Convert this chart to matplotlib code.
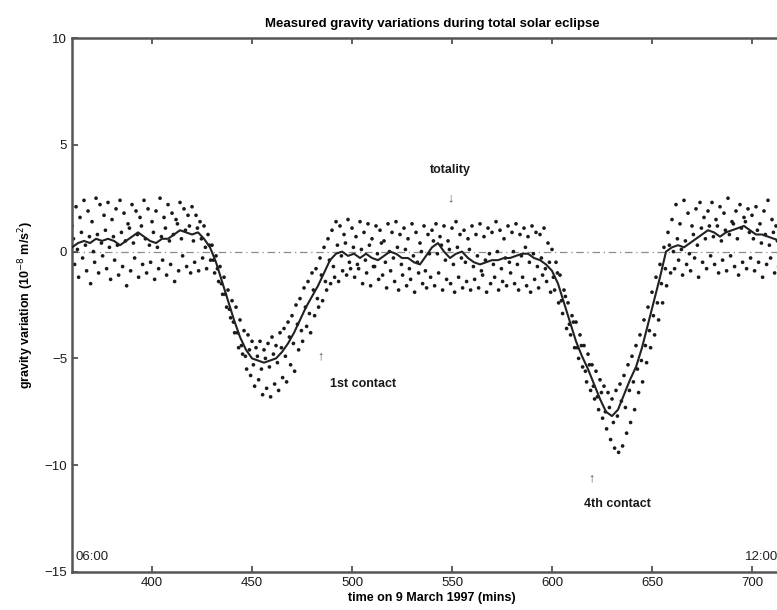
import numpy as np
import matplotlib
matplotlib.use("Agg")
from matplotlib import pyplot as plt

plt.rcParams['font.family'] = ['Liberation Sans', 'DejaVu Sans']

# smoothed gravity curve, every 3 min from 06:00 (360) to 12:00 (720)
t_line = np.arange(360, 721, 3)
g_line = [
    0.2, 0.4, 0.5, 0.4, 0.6, 0.5, 0.6, 0.5, 0.3, 0.5,
    0.7, 0.9, 0.7, 0.5, 0.4, 0.6, 0.6, 0.8, 1.0, 0.9,
    0.8, 0.9, 0.6, 0.2, -0.5, -1.4, -2.3, -3.2, -4.0, -4.6,
    -5.0, -5.1, -5.2, -5.1, -5.0, -4.7, -4.3, -3.8, -3.2, -2.6,
    -2.1, -1.6, -1.0, -0.4, -0.1, 0.0, -0.2, -0.1, -0.3, -0.1,
    -0.3, -0.4, -0.2, 0.0, -0.1, -0.3, -0.3, -0.5, -0.6, -0.2,
    0.2, 0.4, 0.0, -0.3, -0.1, 0.0, -0.3, -0.5, -0.6, -0.5,
    -0.4, -0.4, -0.3, -0.3, -0.2, -0.1, -0.1, -0.3, -0.4, -0.6,
    -0.9, -1.5, -2.4, -3.3, -4.2, -4.9, -5.5, -6.2, -6.9, -7.5,
    -7.7, -7.4, -6.7, -6.0, -5.4, -4.5, -3.4, -2.3, -1.2, 0.0,
    0.2, 0.3, 0.2, 0.4, 0.6, 0.8, 1.0, 0.9, 0.7, 0.9,
    1.0, 1.1, 1.2, 1.0, 0.8, 0.8, 0.7, 0.6, 0.5, 0.4,
    0.3,
]

# raw readings, every 2 min, three bands of points (slightly staggered in time)
t_obs = np.arange(360, 720, 2)
t_shift = [0.0, 0.7, 1.3]
g_upper = [
    1.2, 2.1, 1.6, 2.4, 1.9, 1.4, 2.5, 2.2, 1.7, 2.3,
    1.5, 2.0, 2.4, 1.8, 1.3, 2.2, 1.9, 1.6, 2.4, 2.0,
    1.4, 1.9, 2.5, 1.6, 2.2, 1.8, 1.5, 2.3, 2.0, 1.7,
    2.1, 1.7, 1.4, 1.2, 0.8, 0.3, -0.2, -0.7, -1.2, -1.8,
    -2.3, -2.6, -3.2, -3.7, -3.9, -4.2, -4.5, -4.2, -4.6, -4.3,
    -4.0, -4.4, -3.8, -3.6, -3.3, -3.0, -2.5, -2.2, -1.7, -1.4,
    -1.0, -0.8, -0.3, 0.2, 0.6, 1.0, 1.4, 1.2, 0.8, 1.5,
    1.1, 0.7, 1.4, 0.9, 1.3, 0.6, 1.2, 1.0, 0.5, 1.3,
    0.9, 1.4, 0.8, 1.1, 0.6, 1.3, 0.9, 0.4, 1.2, 0.8,
    1.0, 1.3, 0.7, 1.2, 0.5, 1.1, 1.4, 0.8, 1.0, 0.6,
    1.2, 0.8, 1.3, 0.7, 1.1, 0.9, 1.4, 1.0, 0.6, 1.2,
    0.9, 1.3, 0.8, 1.1, 0.7, 1.2, 0.9, 0.8, 1.1, 0.4,
    0.1, -0.5, -1.1, -1.8, -2.4, -3.0, -3.3, -3.9, -4.4, -4.8,
    -5.3, -5.6, -6.0, -6.3, -6.6, -6.9, -6.5, -6.2, -5.8, -5.3,
    -4.9, -4.4, -3.9, -3.2, -2.6, -1.9, -1.2, -0.6, 0.2, 0.9,
    1.5, 2.2, 1.3, 2.4, 1.8, 1.2, 2.0, 2.3, 1.6, 1.9,
    2.3, 1.5, 2.1, 1.8, 2.5, 1.4, 1.9, 2.2, 1.6, 2.0,
    1.7, 2.1, 1.3, 1.9, 2.4, 1.5, 1.2, 1.8, 2.2, 1.4,
]
g_middle = [
    0.6, 0.1, 0.9, 0.3, 0.7, 0.0, 0.8, 0.4, 1.0, 0.2,
    0.7, 0.3, 0.9, 0.5, 1.1, 0.4, 0.8, 1.2, 0.6, 0.3,
    0.9, 0.2, 0.7, 1.1, 0.5, 0.8, 1.3, 0.6, 1.0, 1.2,
    0.5, 1.1, 0.6, 0.2, 0.3, -0.4, -0.8, -1.5, -2.0, -2.7,
    -3.3, -3.8, -4.4, -4.9, -4.6, -5.3, -4.9, -5.5, -5.0, -5.4,
    -4.8, -5.2, -4.5, -4.9, -4.0, -4.3, -3.4, -3.7, -2.6, -2.9,
    -1.8, -2.2, -1.1, -1.4, -0.4, -0.7, 0.3, -0.2, 0.4, -0.5,
    0.2, -0.6, 0.1, -0.4, 0.3, -0.7, -0.1, 0.4, -0.5, 0.0,
    -0.3, 0.2, -0.6, 0.1, -0.8, -0.2, -0.5, 0.0, -0.9, -0.1,
    0.5, -0.1, 0.3, -0.4, 0.1, -0.6, 0.2, -0.3, -0.5, 0.1,
    -0.7, -0.2, -0.9, -0.4, -0.1, -0.6, 0.0, -0.8, -0.3, -0.5,
    0.0, -0.6, -0.2, 0.2, -0.5, -0.1, -0.7, -0.3, -0.8, -0.5,
    -1.2, -1.0, -2.3, -2.1, -3.4, -3.3, -4.5, -4.4, -5.6, -5.3,
    -6.3, -6.8, -6.6, -7.5, -7.3, -8.0, -7.7, -7.0, -7.3, -6.5,
    -6.1, -5.5, -5.1, -4.4, -3.7, -3.0, -2.4, -1.5, -0.8, 0.3,
    0.0, 0.6, 0.1, 0.5, -0.1, 0.8, 0.3, 1.1, 0.6, 1.2,
    0.7, 1.2, 0.5, 1.0, 0.8, 1.3, 0.6, 1.1, 1.4, 0.9,
    0.6, 1.0, 0.4, 0.8, 0.3, 0.9, 0.5, 0.2, 0.7, 0.3,
]
g_lower = [
    -0.6, -1.2, -0.3, -0.9, -1.5, -0.5, -1.0, -0.2, -0.8, -1.3,
    -0.4, -1.1, -0.7, -1.6, -0.9, -0.3, -1.2, -0.6, -1.0, -0.5,
    -1.3, -0.8, -0.4, -1.1, -0.6, -1.4, -0.9, -0.2, -0.7, -1.0,
    -0.5, -0.9, -0.3, -0.8, -0.4, -1.0, -1.4, -2.0, -2.6, -3.1,
    -3.8, -4.5, -4.8, -5.5, -5.8, -6.3, -6.0, -6.7, -6.4, -6.8,
    -6.2, -6.5, -5.9, -6.1, -5.3, -5.6, -4.6, -4.2, -3.5, -3.8,
    -3.0, -2.6, -2.3, -1.8, -1.5, -1.2, -1.4, -0.9, -1.1, -0.8,
    -1.2, -0.8, -1.5, -1.0, -1.6, -0.7, -1.3, -1.1, -1.7, -0.9,
    -1.4, -1.8, -1.1, -1.6, -1.3, -1.9, -1.0, -1.5, -1.7, -1.2,
    -1.6, -1.0, -1.8, -1.3, -1.5, -1.9, -1.2, -1.7, -1.4, -1.8,
    -1.3, -1.7, -1.1, -1.9, -1.5, -1.2, -1.8, -1.4, -1.6, -1.0,
    -1.5, -1.8, -1.2, -1.6, -1.9, -1.3, -1.7, -1.1, -1.4, -1.9,
    -1.8, -2.4, -2.9, -3.6, -3.9, -4.5, -5.0, -5.4, -6.1, -6.5,
    -6.9, -7.4, -7.8, -8.3, -8.8, -9.2, -9.4, -9.1, -8.5, -8.0,
    -7.4, -6.6, -6.1, -5.2, -4.5, -3.9, -3.2, -2.4, -1.6, -1.0,
    -0.8, -0.4, -1.1, -0.6, -0.9, -0.3, -1.2, -0.5, -0.8, -0.2,
    -0.6, -1.0, -0.4, -0.9, -0.2, -0.7, -1.1, -0.5, -0.8, -0.3,
    -0.9, -0.5, -1.2, -0.6, -0.3, -1.0, -0.7, -1.3, -0.4, -0.9,
]

xticks = [400, 450, 500, 550, 600, 650, 700]
yticks = [10, 5, 0, -5, -10, -15]

fig = plt.figure(figsize=(7.77, 6.10), dpi=100)
# axes runs to 12:00, the right edge falls just outside the picture
ax = fig.add_axes([0.0927, 0.0623, 0.9266, 0.8754])

ax.axhline(0, ls='-.', color='0.55', lw=0.9, dashes=(6, 3, 1, 3), zorder=1)
for shift, band in zip(t_shift, (g_upper, g_middle, g_lower)):
    ax.scatter(t_obs + shift, band, s=7, color='#1a1a1a', edgecolors='none', zorder=2)
ax.plot(t_line, g_line, color='#222222', lw=1.5, zorder=3)

ax.set_xlim(360, 720)
ax.set_ylim(-15, 10)
ax.set_xticks(xticks)
ax.set_yticks(yticks)
ax.tick_params(direction='in', length=4, width=1.2, colors='#444444',
               labelcolor='#1a1a1a', labelsize=9.5, top=True)
for side in ('left', 'bottom', 'top', 'right'):
    ax.spines[side].set_linewidth(1.8)
    ax.spines[side].set_color('#555555')

ax.set_title('Measured gravity variations during total solar eclipse',
             fontsize=9.5, fontweight='bold', pad=8)
ax.set_xlabel('time on 9 March 1997 (mins)', fontsize=9, fontweight='bold', labelpad=2)
ax.set_ylabel('gravity variation (10$^{-8}$ m/s$^{2}$)', fontsize=9, fontweight='bold', labelpad=6)

txt = dict(fontsize=9, fontweight='bold', color='#1a1a1a')
ax.text(549, 3.8, 'totality', ha='center', va='center', **txt)
ax.text(549, 2.5, '\u2193', ha='center', va='center', fontsize=9, color='#555555')
ax.text(484, -4.9, '\u2191', ha='center', va='center', fontsize=9, color='#555555')
ax.text(489, -6.2, '1st contact', ha='left', va='center', **txt)
ax.text(619.5, -10.6, '\u2191', ha='center', va='center', fontsize=9, color='#555555')
ax.text(616, -11.8, '4th contact', ha='left', va='center', **txt)
ax.text(361.5, -14.3, '06:00', ha='left', va='center', fontsize=9.5, color='#222222')
ax.text(713, -14.3, '12:00', ha='right', va='center', fontsize=9.5, color='#222222')

fig.savefig('out.png', dpi=100)
